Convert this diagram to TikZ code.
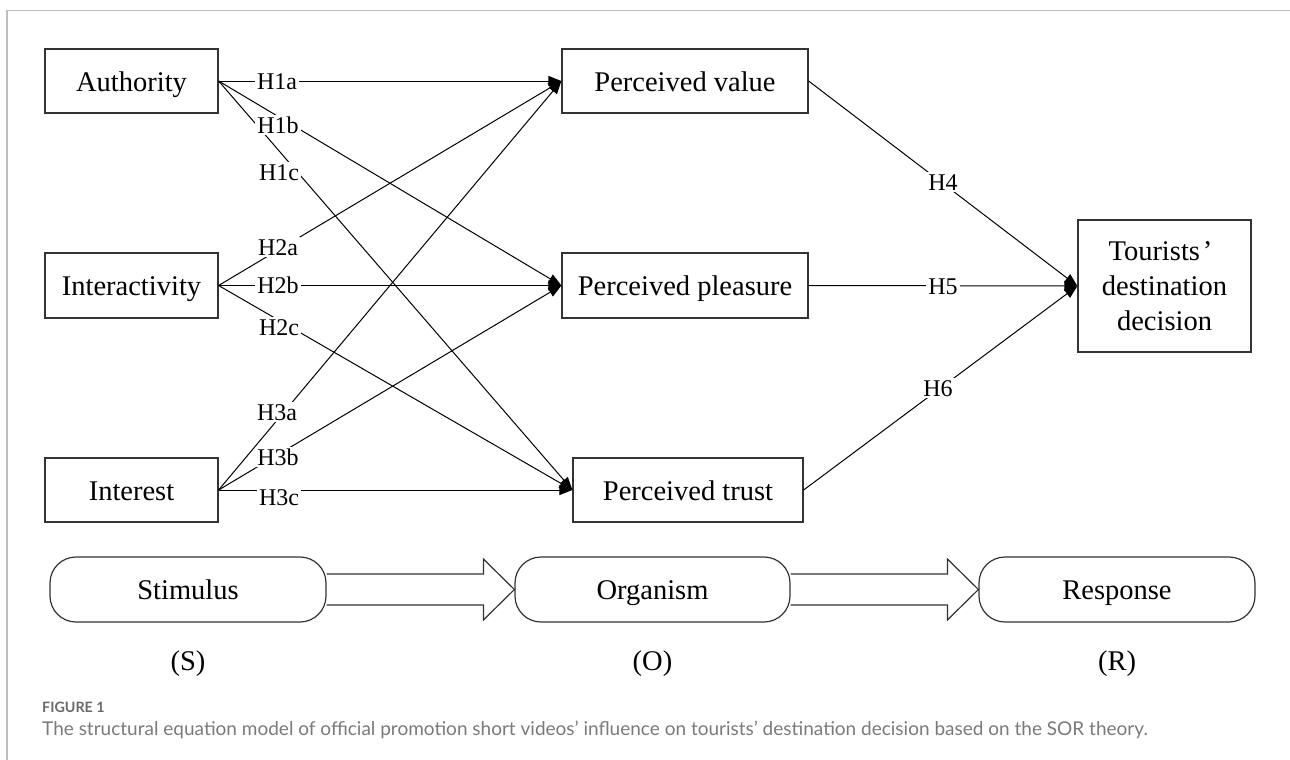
\documentclass[tikz,border=0pt]{standalone}
\usepackage{fontspec}
\setmainfont{Liberation Serif}
\newfontfamily\capfont{Lato}
\usetikzlibrary{arrows.meta,calc}
\definecolor{framegray}{HTML}{BDBDBD}
\definecolor{capgray}{HTML}{7A7A7A}
\definecolor{figgray}{HTML}{6A6A6A}
\definecolor{boxline}{HTML}{333333}
\begin{document}
\begin{tikzpicture}[x=1pt,y=-1pt,
  box/.style={draw=boxline,line width=1.2pt,minimum height=64pt,inner sep=0pt,align=center,font=\fontsize{28.5}{35}\selectfont},
  one/.style={box,text height=20.5pt,text depth=0pt},
  rbox/.style={one,rounded corners=26pt,minimum width=276pt,minimum height=65pt},
  conn/.style={line width=1pt,-{Triangle[length=13pt,width=10pt]}},
  lbl/.style={fill=white,inner sep=2pt,text height=16pt,text depth=0pt,font=\fontsize{24}{28}\selectfont},
  blk/.style={draw=boxline,line width=1.2pt,line join=miter},
  sor/.style={text height=20.5pt,text depth=0pt,font=\fontsize{28.5}{34}\selectfont}]
\useasboundingbox (0,0) rectangle (1290,760);
% frame
\draw[framegray,line width=1.5pt] (7,760) -- (7,10.5) -- (1290,10.5);
% boxes
\node[one,minimum width=173pt] (auth) at (131.5,81) {Authority};
\node[one,minimum width=173pt,minimum height=65pt] (inter) at (131.5,285.5) {Interactivity};
\node[one,minimum width=173pt] (intr) at (131.5,490) {Interest};
\node[one,minimum width=246pt] (val) at (685,81) {Perceived value};
\node[one,minimum width=246pt,minimum height=65pt] (ple) at (685,285.5) {Perceived pleasure};
\node[one,minimum width=230pt] (tru) at (688,490) {Perceived trust};
\node[box,minimum width=173pt,minimum height=132pt] (tour) at (1164.5,286) {Tourists\kern3pt’\kern8pt\\destination\\decision};
% connectors
\draw[conn] (auth.east) -- (val.west);
\draw[conn] (auth.east) -- (ple.west);
\draw[conn] (auth.east) -- (tru.west);
\draw[conn] (inter.east) -- (val.west);
\draw[conn] (inter.east) -- (ple.west);
\draw[conn] (inter.east) -- (tru.west);
\draw[conn] (intr.east) -- (val.west);
\draw[conn] (intr.east) -- (ple.west);
\draw[conn] (intr.east) -- (tru.west);
\draw[conn] (val.east) -- (tour.west);
\draw[conn] (ple.east) -- (tour.west);
\draw[conn] (tru.east) -- (tour.west);
% labels
\node[lbl] (h1a) at (277,81) {H1a};
\node[lbl] (h1b) at (278,125) {H1b};
\node[lbl] (h1c) at (279,172) {H1c};
\node[lbl] (h2a) at (278,247) {H2a};
\node[lbl] (h2b) at (278,285) {H2b};
\node[lbl] (h2c) at (279,327) {H2c};
\node[lbl] (h3a) at (277,412) {H3a};
\node[lbl] (h3b) at (278,457) {H3b};
\node[lbl] (h3c) at (279,497) {H3c};
\node[lbl] (h4) at (943,182) {H4};
\node[lbl] (h5) at (943,286) {H5};
\node[lbl] (h6) at (938,388) {H6};
% SOR row
\node[rbox] (stim) at (188,589.5) {Stimulus};
\node[rbox,minimum width=275pt] (org) at (652.5,589.5) {Organism};
\node[rbox] (resp) at (1117,589.5) {Response};
\draw[blk] ($(stim.east)+(0,-15.5)$) -- ($(org.west)+(-31,-15.5)$) -- ($(org.west)+(-31,-30.5)$) -- (org.west) -- ($(org.west)+(-31,30.5)$) -- ($(org.west)+(-31,15.5)$) -- ($(stim.east)+(0,15.5)$);
\draw[blk] ($(org.east)+(0,-15.5)$) -- ($(resp.west)+(-31,-15.5)$) -- ($(resp.west)+(-31,-30.5)$) -- (resp.west) -- ($(resp.west)+(-31,30.5)$) -- ($(resp.west)+(-31,15.5)$) -- ($(org.east)+(0,15.5)$);
\node[sor] (sl) at (188,660) {(S)};
\node[sor] (ol) at (652.5,660) {(O)};
\node[sor] (rl) at (1117,660) {(R)};
% caption
\node[anchor=base west,inner sep=0pt,text=figgray,font=\capfont\bfseries\fontsize{14.3}{17}\selectfont] (fig) at (42,712) {FIGURE 1};
\node[anchor=base west,inner sep=0pt,text=capgray,font=\capfont\fontsize{19}{22}\selectfont] (cap) at (42,735) {The structural equation model of official promotion short videos’ influence on tourists’ destination decision based on the SOR theory.};
\end{tikzpicture}
\end{document}
